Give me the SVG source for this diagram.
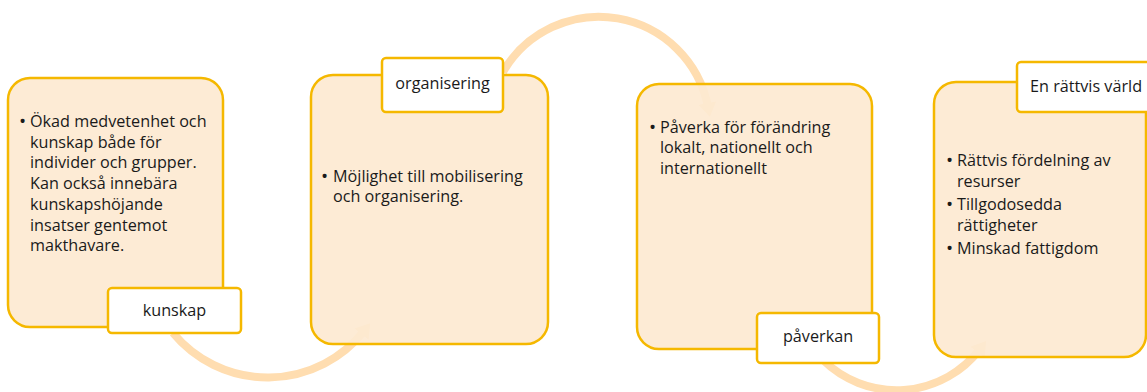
<svg xmlns="http://www.w3.org/2000/svg" width="1147" height="392" viewBox="0 0 1147 392">
<style>
.box{fill:#FDE9D1;fill-opacity:0.92;stroke:#F5B800;stroke-width:2.5}
.lab{fill:#FFFFFF;stroke:#F5B800;stroke-width:2.5}
.arc{fill:none;stroke:#FFDDB0;stroke-width:8;marker-end:url(#ah)}
text{font-family:"Open Sans","Liberation Sans",sans-serif;font-size:16.2px;fill:#1a1a1a}
.b{font-size:19px}
.c{text-anchor:middle}
</style>
<defs>
<marker id="ah" markerUnits="userSpaceOnUse" markerWidth="16" markerHeight="18" refX="4" refY="9" orient="auto">
<path d="M0 0 L14 9 L0 18 Z" fill="#FFDDB0"/>
</marker>
</defs>
<g id="connectors">
<path class="arc" d="M 173 333 A 123 123 0 0 0 364 331"/>
<path class="arc" d="M 503 72 A 111 111 0 0 1 708 107"/>
<path class="arc" d="M 823 360 A 105 105 0 0 0 980 349"/>
</g>
<g id="node-kunskap">
<rect class="box" x="8" y="78" width="215" height="249" rx="22"/>
<text class="b" x="19" y="128">•</text>
<text x="30" y="127">Ökad medvetenhet och</text>
<text x="30" y="147.7">kunskap både för</text>
<text x="30" y="168.4">individer och grupper.</text>
<text x="30" y="189">Kan också innebära</text>
<text x="30" y="209.8">kunskapshöjande</text>
<text x="30" y="230.5">insatser gentemot</text>
<text x="30" y="251.2">makthavare.</text>
<rect class="lab" x="108" y="288" width="133" height="45" rx="4"/>
<text class="c" x="174.5" y="316">kunskap</text>
</g>
<g id="node-organisering">
<rect class="box" x="311" y="75" width="237" height="269" rx="22"/>
<text class="b" x="321" y="183">•</text>
<text x="333" y="182">Möjlighet till mobilisering</text>
<text x="333" y="202">och organisering.</text>
<rect class="lab" x="382" y="58" width="121" height="54" rx="4"/>
<text class="c" x="442.5" y="89">organisering</text>
</g>
<g id="node-paverkan">
<rect class="box" x="637" y="84" width="235" height="265" rx="22"/>
<text class="b" x="649" y="133.5">•</text>
<text x="660" y="132.5">Påverka för förändring</text>
<text x="660" y="153">lokalt, nationellt och</text>
<text x="660" y="173.5">internationellt</text>
<rect class="lab" x="757" y="313" width="122" height="50" rx="4"/>
<text class="c" x="818" y="342">påverkan</text>
</g>
<g id="node-varld">
<rect class="box" x="934" y="82" width="212" height="275" rx="22"/>
<text class="b" x="946" y="166.5">•</text>
<text x="957" y="165.5">Rättvis fördelning av</text>
<text x="957" y="186.5">resurser</text>
<text class="b" x="946" y="211">•</text>
<text x="957" y="210">Tillgodosedda</text>
<text x="957" y="230.5">rättigheter</text>
<text class="b" x="946" y="255">•</text>
<text x="957" y="254">Minskad fattigdom</text>
<rect class="lab" x="1017" y="62" width="140" height="50" rx="4"/>
<text x="1030" y="92">En rättvis värld</text>
</g>
</svg>
